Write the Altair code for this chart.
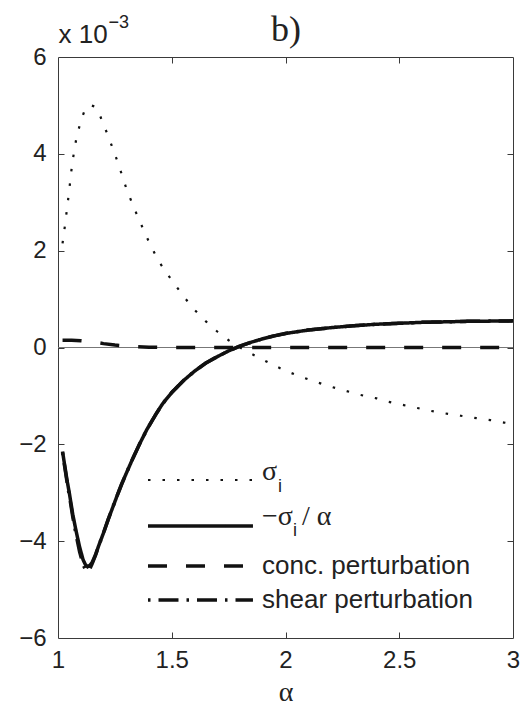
import altair as alt
import pandas as pd

# ---------------- data (values in units of 1e-3) ----------------
alpha_sigma = [1.02, 1.03, 1.04, 1.05, 1.06, 1.07, 1.08, 1.10, 1.12, 1.14, 1.16, 1.18,
               1.20, 1.22, 1.24, 1.26, 1.28, 1.30, 1.33, 1.36, 1.40, 1.44, 1.48, 1.52,
               1.56, 1.60, 1.65, 1.70, 1.75, 1.80, 1.85, 1.90, 1.95, 2.00, 2.07, 2.14,
               2.20, 2.26, 2.33, 2.40, 2.45, 2.52, 2.58, 2.64, 2.70, 2.77, 2.84, 2.90,
               2.96, 3.00]
sigma_i = [2.15, 2.50, 2.88, 3.28, 3.70, 4.03, 4.30, 4.68, 4.93, 5.01, 4.98, 4.85,
           4.60, 4.38, 4.12, 3.86, 3.58, 3.29, 2.93, 2.60, 2.18, 1.80, 1.52, 1.26,
           1.01, 0.78, 0.54, 0.33, 0.15, 0.00, -0.13, -0.25, -0.37, -0.48, -0.61, -0.72,
           -0.81, -0.89, -0.98, -1.05, -1.12, -1.19, -1.25, -1.31, -1.36, -1.41, -1.46, -1.50,
           -1.55, -1.58]

alpha_neg = [1.02, 1.03, 1.04, 1.05, 1.065, 1.08, 1.095, 1.11, 1.12, 1.13, 1.14, 1.15,
             1.165, 1.18, 1.20, 1.22, 1.24, 1.26, 1.28, 1.30, 1.33, 1.36, 1.39, 1.43,
             1.46, 1.50, 1.55, 1.60, 1.65, 1.70, 1.75, 1.80, 1.85, 1.90, 1.95, 2.00,
             2.10, 2.20, 2.30, 2.40, 2.50, 2.60, 2.70, 2.80, 2.90, 3.00]
neg_sigma_over_alpha = [-2.15, -2.45, -2.75, -3.01, -3.45, -3.80, -4.12, -4.38, -4.48, -4.53, -4.50, -4.44,
                        -4.28, -4.08, -3.83, -3.56, -3.31, -3.06, -2.82, -2.60, -2.28, -1.98, -1.70, -1.38,
                        -1.16, -0.93, -0.69, -0.49, -0.32, -0.19, -0.07, 0.03, 0.11, 0.18, 0.24, 0.29,
                        0.36, 0.41, 0.45, 0.48, 0.50, 0.52, 0.53, 0.54, 0.545, 0.55]

alpha_conc = [1.02, 1.06, 1.10, 1.15, 1.20, 1.25, 1.30, 1.35, 1.40, 1.50, 2.00, 2.50, 3.00]
conc_pert = [0.15, 0.15, 0.14, 0.12, 0.08, 0.05, 0.03, 0.015, 0.005, 0.0, 0.0, 0.0, 0.0]

alpha_shear = [1.02, 1.03, 1.04, 1.05, 1.065, 1.08, 1.095, 1.11, 1.12, 1.13, 1.14, 1.15,
               1.165, 1.18, 1.20, 1.22, 1.24, 1.26, 1.28, 1.30, 1.33, 1.36, 1.39, 1.43,
               1.46, 1.50, 1.55, 1.60, 1.65, 1.70, 1.75, 1.80, 1.85, 1.90, 1.95, 2.00,
               2.10, 2.20, 2.30, 2.40, 2.50, 2.60, 2.70, 2.80, 2.90, 3.00]
shear_pert = [-2.17, -2.48, -2.79, -3.06, -3.50, -3.88, -4.22, -4.48, -4.58, -4.62, -4.57, -4.47,
              -4.29, -4.08, -3.83, -3.56, -3.31, -3.06, -2.82, -2.60, -2.28, -1.98, -1.70, -1.38,
              -1.16, -0.93, -0.69, -0.49, -0.32, -0.19, -0.07, 0.03, 0.11, 0.18, 0.24, 0.29,
              0.36, 0.41, 0.45, 0.48, 0.50, 0.52, 0.53, 0.54, 0.545, 0.55]

series_names = ["σi", "−σi / α", "conc. perturbation", "shear perturbation"]
x_ticks = [1, 1.5, 2, 2.5, 3]
y_ticks = [-6, -4, -2, 0, 2, 4, 6]
x_inner_ticks = [1.5, 2, 2.5]
y_inner_ticks = [-4, -2, 0, 2, 4]

# ---------------- layout constants ----------------
W, H = 455, 581
TICK = 6
INK = "#111111"
AXC = "#3a3a3a"
SANS = "Liberation Sans"
SERIF = "Liberation Serif"

# legend placement (data units of the plot's own scales)
LEG_X0, LEG_X1, LEG_TX = 1.3956, 1.857, 1.8967
LEG_Y = [-2.737, -3.687, -4.513, -5.216]

rows = []
for name, xs_, vs_ in zip(series_names,
                          [alpha_sigma, alpha_neg, alpha_conc, alpha_shear],
                          [sigma_i, neg_sigma_over_alpha, conc_pert, shear_pert]):
    for a, v in zip(xs_, vs_):
        rows.append({"alpha": a, "value": v, "series": name})
df = pd.DataFrame(rows)

leg = pd.DataFrame({"series": series_names, "x0": [LEG_X0] * 4, "x1": [LEG_X1] * 4,
                    "tx": [LEG_TX] * 4, "y": LEG_Y})

xscale = alt.Scale(domain=[1, 3], nice=False, zero=False)
yscale = alt.Scale(domain=[-6, 6], nice=False, zero=False)

dash = alt.StrokeDash("series:N",
                      scale=alt.Scale(domain=series_names,
                                      range=[[2.5, 12], [1, 0], [19, 19], [2.5, 8, 20, 8]]),
                      legend=None)
sw = alt.condition(f"datum.series === '{series_names[0]}'", alt.value(2.2), alt.value(3.5))

# ---------------- axes ----------------
axB1 = alt.Axis(orient="bottom", values=x_ticks, format="~g", ticks=False, tickSize=0,
                domain=True, domainColor=AXC, domainWidth=1, grid=False,
                labelFont=SANS, labelFontSize=24, labelColor="#222", labelPadding=10,
                labelFlush=False, labelOverlap=False,
                title="α", titleFont=SERIF, titleFontSize=28, titleFontWeight="normal",
                titleColor="#222", titleX=W / 2, titleY=62, titleBaseline="alphabetic",
                titleAlign="center")
# inward ticks on the bottom edge: a tick-only axis lifted by its own tick length
axB2 = alt.Axis(orient="bottom", offset=-TICK, values=x_inner_ticks, labels=False,
                domain=False, ticks=True, tickSize=TICK, tickColor=AXC, tickWidth=1,
                grid=False, title=None)
# top frame edge with inward ticks, plus the panel label
axB3 = alt.Axis(orient="bottom", offset=-H, values=x_inner_ticks, labels=False, domain=True,
                domainColor=AXC, domainWidth=1, ticks=True, tickSize=TICK, tickColor=AXC,
                tickWidth=1, grid=False,
                title="b)", titleFont=SERIF, titleFontSize=36, titleFontWeight="normal",
                titleColor="#222", titleX=W / 2, titleY=-17, titleBaseline="alphabetic",
                titleAlign="center")
axL1 = alt.Axis(orient="left", values=y_ticks, ticks=False, tickSize=0, domain=True,
                domainColor=AXC, domainWidth=1, grid=False,
                labelFont=SANS, labelFontSize=24, labelColor="#222", labelPadding=12,
                labelFlush=False, labelOverlap=False,
                title="x 10", titleAngle=0, titleX=0, titleY=-15, titleAlign="left",
                titleBaseline="alphabetic", titleFont=SANS, titleFontSize=26,
                titleFontWeight="normal", titleColor="#222")
axL2 = alt.Axis(orient="right", offset=-W, values=y_inner_ticks, labels=False, domain=False,
                ticks=True, tickSize=TICK, tickColor=AXC, tickWidth=1, grid=False,
                title="−3", titleAngle=0, titleX=50, titleY=-30, titleAlign="left",
                titleBaseline="alphabetic", titleFont=SANS, titleFontSize=18,
                titleFontWeight="normal", titleColor="#222")
axL3 = alt.Axis(orient="left", offset=-W, values=y_inner_ticks, labels=False, domain=True,
                domainColor=AXC, domainWidth=1, ticks=True, tickSize=TICK, tickColor=AXC,
                tickWidth=1, grid=False, title=None)

base = alt.Chart(df)

zero_line = alt.Chart(df).mark_rule(color="#777777", strokeWidth=1.2).encode(
    y=alt.YDatum(0, scale=yscale, axis=None))

curves = base.mark_line(color=INK, strokeCap="butt").encode(
    x=alt.X("alpha:Q", scale=xscale, axis=axB1),
    y=alt.Y("value:Q", scale=yscale, axis=axL1),
    strokeDash=dash,
    strokeWidth=sw,
    order=alt.Order("alpha:Q"),
)

axes2 = base.mark_point(opacity=0).encode(
    x=alt.X("alpha:Q", scale=xscale, axis=axB2),
    y=alt.Y("value:Q", scale=yscale, axis=axL2),
)
axes3 = base.mark_point(opacity=0).encode(
    x=alt.X("alpha:Q", scale=xscale, axis=axB3),
    y=alt.Y("value:Q", scale=yscale, axis=axL3),
)

lb = alt.Chart(leg)
leg_lines = lb.mark_rule(color=INK, strokeCap="butt").encode(
    x=alt.X("x0:Q", scale=xscale, axis=None),
    x2="x1:Q",
    y=alt.Y("y:Q", scale=yscale, axis=None),
    strokeDash=dash,
    strokeWidth=sw,
)


def leg_text(idx, text, font, size, dx=0, dy=0, baseline="alphabetic"):
    return alt.Chart(leg.iloc[[idx]]).mark_text(
        text=text, font=font, fontSize=size, dx=dx, dy=dy, align="left",
        baseline=baseline, color="#222").encode(
        x=alt.X("tx:Q", scale=xscale, axis=None),
        y=alt.Y("y:Q", scale=yscale, axis=None))


labels = [
    leg_text(0, "σ", SERIF, 28, 0, 0),
    leg_text(0, "i", SANS, 18, 16, 12),
    leg_text(1, "−σ", SERIF, 28, 0, -1),
    leg_text(1, "i", SANS, 18, 31, 10),
    leg_text(1, "/ α", SERIF, 28, 40, -1),
    leg_text(2, series_names[2], SANS, 26, 0, 0, "middle"),
    leg_text(3, series_names[3], SANS, 26, 0, 0, "middle"),
]

chart = alt.layer(zero_line, curves, axes2, axes3, leg_lines, *labels).resolve_axis(
    x="independent", y="independent"
).properties(
    width=W, height=H,
    padding={"left": 58, "top": 57, "right": 13, "bottom": 68},
    autosize=alt.AutoSizeParams(type="none"),
    background="white",
).configure_view(stroke=None)

chart.save("out.html", embed_options={"renderer": "svg", "actions": False})
